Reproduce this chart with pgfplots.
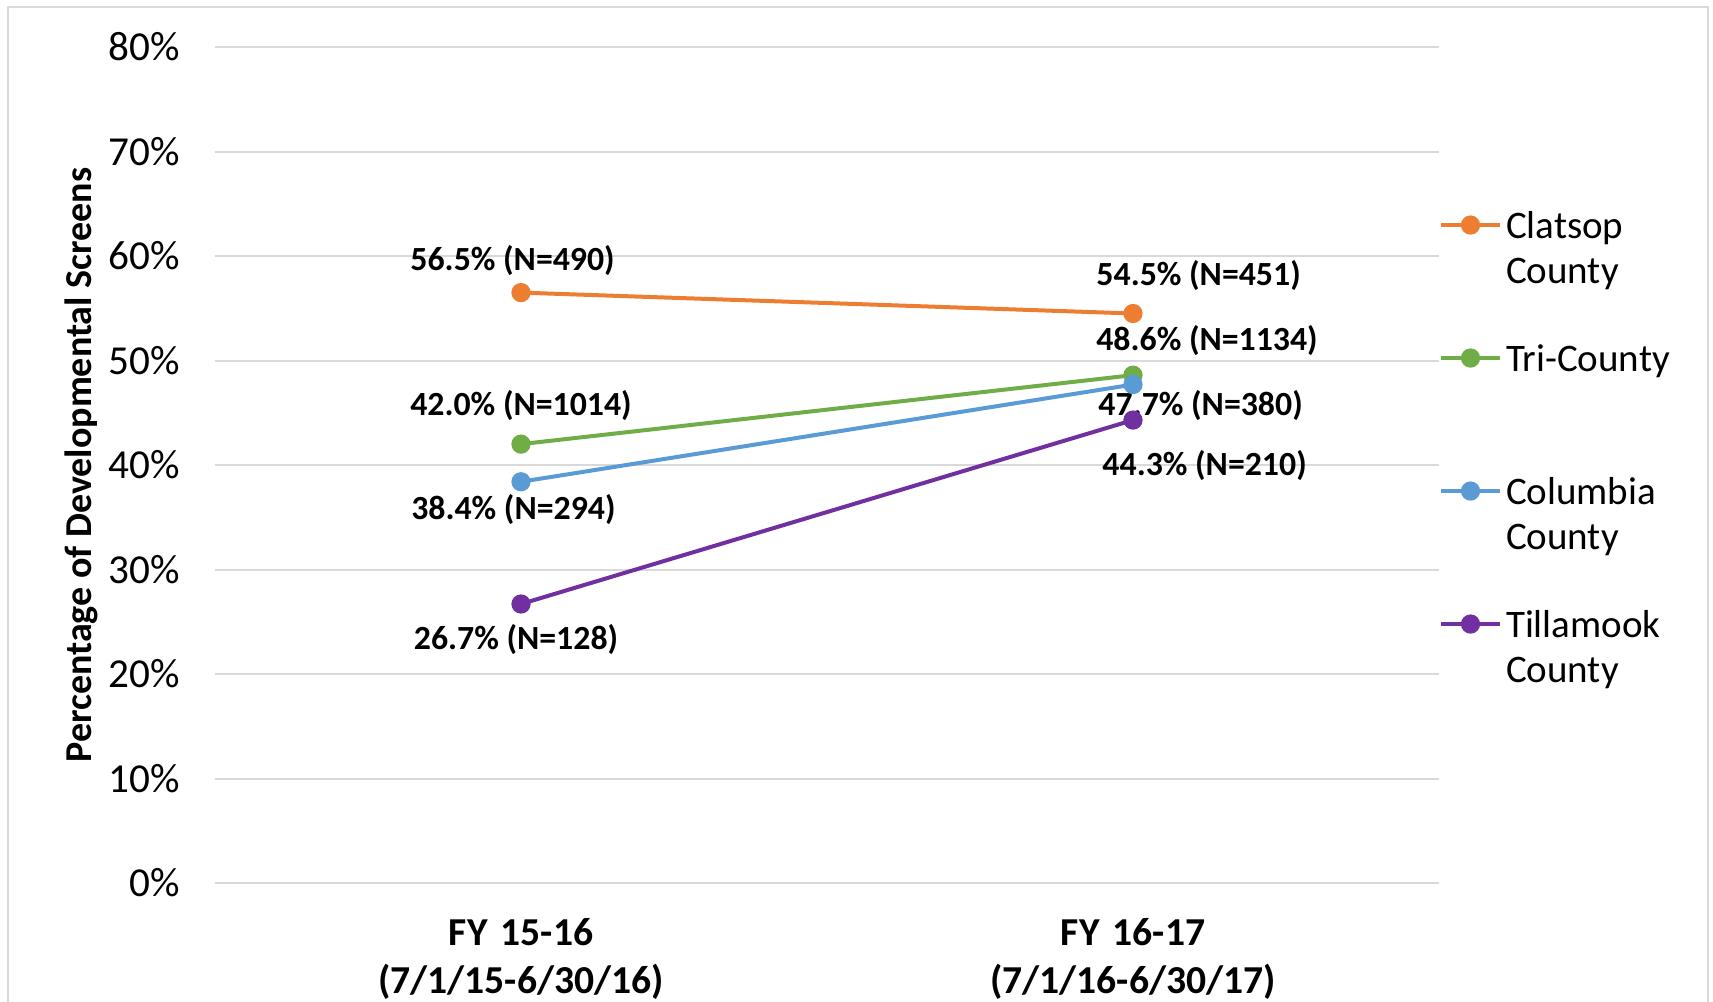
\documentclass[border=0pt]{standalone}
\usepackage{pgfplots}
\pgfplotsset{compat=1.18}
\usepackage{fontspec}
\setmainfont{Carlito}
\definecolor{cOrange}{HTML}{ED7D31}
\definecolor{cGreen}{HTML}{70AD47}
\definecolor{cBlue}{HTML}{5B9BD5}
\definecolor{cPurple}{HTML}{7030A0}
\definecolor{cGrid}{HTML}{D9D9D9}
\begin{document}
\begin{tikzpicture}
\begin{axis}[
  at={(0,0)}, anchor=south west,
  scale only axis, width=306pt, height=209pt,
  xmin=-0.5, xmax=1.5, ymin=0, ymax=80,
  axis line style={draw=none},
  major tick length=0pt,
  xtick={0,1},
  xticklabels={{FY 15-16\\(7/1/15-6/30/16)},{FY 16-17\\(7/1/16-6/30/17)}},
  xticklabel style={anchor=base, inner sep=0pt, text width=90pt, align=center,
    font=\bfseries\fontsize{9.9}{12.2}\selectfont, yshift=-15.5pt},
  ytick={0,10,20,30,40,50,60,70,80},
  yticklabels={0\%,10\%,20\%,30\%,40\%,50\%,60\%,70\%,80\%},
  yticklabel style={anchor=east, inner sep=0pt, xshift=-8.5pt,
    font=\fontsize{10.3}{12}\selectfont},
  ymajorgrids,
  grid style={cGrid, line width=0.5pt},
  ylabel={Percentage of Developmental Screens},
  ylabel style={at={(axis description cs:-0.1095,0.5)}, anchor=center, rotate=0,
    font=\bfseries\fontsize{9.5}{11}\selectfont},
  every axis plot/.append style={line width=1pt, mark=*, mark size=1.9pt},
  legend image code/.code={\draw[mark repeat=2,mark phase=2]
     plot coordinates {(0pt,3.25pt) (7.375pt,3.25pt) (14.75pt,3.25pt)};},
  legend style={at={(axis description cs:1.0,0.8098)}, anchor=north west,
    draw=none, fill=none, inner sep=0pt, outer sep=0pt,
    row sep=10.25pt, column sep=1.0pt,
    font=\fontsize{9.75}{11.25}\selectfont,
    nodes={inner sep=0pt, text height=8pt, text depth=15pt, text width=45pt, align=left},
    cells={anchor=base west}},
  clip=false,
]
\addplot[color=cOrange, mark options={fill=cOrange, draw=cOrange}] coordinates {(0,56.5) (1,54.5)};
\addlegendentry{Clatsop\\County}
\addplot[color=cGreen, mark options={fill=cGreen, draw=cGreen}] coordinates {(0,42.0) (1,48.6)};
\addlegendentry{Tri-County}
\addplot[color=cBlue, mark options={fill=cBlue, draw=cBlue}] coordinates {(0,38.4) (1,47.7)};
\addlegendentry{Columbia\\County}
\addplot[color=cPurple, mark options={fill=cPurple, draw=cPurple}] coordinates {(0,26.7) (1,44.3)};
\addlegendentry{Tillamook\\County}

\tikzset{lab/.style={anchor=base, inner sep=0pt, font=\bfseries\fontsize{8.45}{10}\selectfont}}
\node[lab, xshift=-2.1pt, yshift=5.5pt] at (axis cs:0,56.5) {56.5\% (N=490)};
\node[lab, xshift=0pt, yshift=7.25pt] at (axis cs:0,42.0) {42.0\% (N=1014)};
\node[lab, xshift=-1.9pt, yshift=-9.5pt] at (axis cs:0,38.4) {38.4\% (N=294)};
\node[lab, xshift=-1.25pt, yshift=-11.25pt] at (axis cs:0,26.7) {26.7\% (N=128)};
\node[lab, xshift=16.4pt, yshift=7pt] at (axis cs:1,54.5) {54.5\% (N=451)};
\node[lab, xshift=18.5pt, yshift=6.25pt] at (axis cs:1,48.6) {48.6\% (N=1134)};
\node[lab, xshift=16.9pt, yshift=-7.75pt] at (axis cs:1,47.7) {47.7\% (N=380)};
\node[lab, xshift=17.9pt, yshift=-13.75pt] at (axis cs:1,44.3) {44.3\% (N=210)};
\end{axis}
\draw[cGrid, line width=0.7pt] (-51.75pt,-33pt) rectangle (373.25pt,219pt);
\pgfresetboundingbox
\path[use as bounding box] (-53.75pt,-29.5pt) rectangle (374.5pt,220.75pt);
\end{tikzpicture}
\end{document}
